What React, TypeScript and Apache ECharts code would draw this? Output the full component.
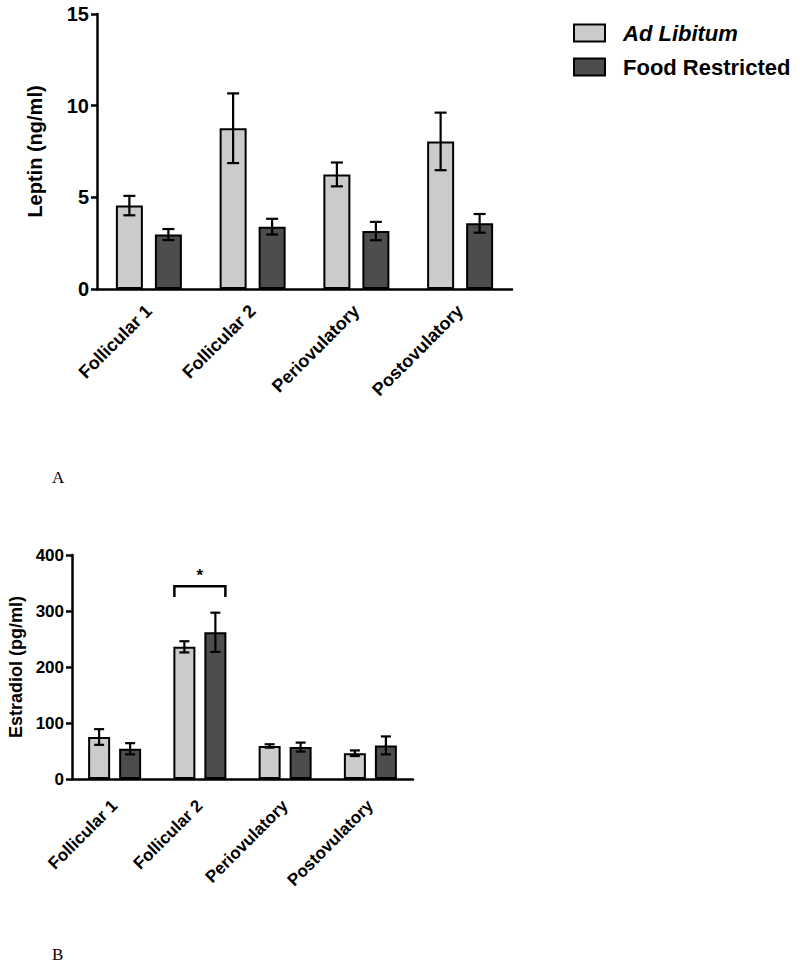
import React, { useEffect, useRef } from "react";
import * as echarts from "echarts";

const categories = ["Follicular 1", "Follicular 2", "Periovulatory", "Postovulatory"];
const seriesNames = ["Ad Libitum", "Food Restricted"];

// Panel A: Leptin (ng/ml)
const leptinAdLib = [4.55, 8.77, 6.25, 8.05];
const leptinAdLibErr = [0.53, 1.9, 0.65, 1.57];
const leptinFR = [2.97, 3.4, 3.16, 3.58];
const leptinFRErr = [0.3, 0.43, 0.5, 0.51];
const leptinTicks = { min: 0, max: 15, interval: 5 };

// Panel B: Estradiol (pg/ml)
const estAdLib = [75, 236, 59, 46];
const estAdLibErr = [14, 10, 3, 5];
const estFR = [54, 262, 57, 60];
const estFRErr = [10, 35, 8, 16];
const estTicks = { min: 0, max: 400, interval: 100 };

// significance bracket (panel B)
const sigCategory = 1;
const sigBracketTop = 344;
const sigBracketDrop = 325;
const sigStarValue = 363;
const sigLabel = "*";

const LIGHT = "#cbcbcb";
const DARK = "#4d4d4d";
const FONT = "'Liberation Sans', Arial, Helvetica, sans-serif";

export default function App() {
  const ref = useRef<HTMLDivElement>(null);
  useEffect(() => {
    if (!ref.current) return;
    const chart = echarts.init(ref.current, null, { renderer: "svg" });

    const A = { bw: 27, gap: 12, cap: 6 };
    const B = { bw: 22, gap: 9, cap: 5 };

    const errSeries = (
      means: number[],
      errs: number[],
      idx: number,
      cfg: { bw: number; gap: number; cap: number },
      sign: number
    ) => ({
      type: "custom",
      xAxisIndex: idx,
      yAxisIndex: idx,
      z: 5,
      silent: true,
      data: means.map((m, i) => [i, m, errs[i]]),
      renderItem: (params: any, api: any) => {
        const x = api.value(0);
        const m = api.value(1);
        const e = api.value(2);
        const hi = api.coord([x, m + e]);
        const lo = api.coord([x, m - e]);
        const cx = hi[0] + (sign * (cfg.bw + cfg.gap)) / 2;
        const st = { stroke: "#000", lineWidth: 2.2 };
        return {
          type: "group",
          children: [
            { type: "line", shape: { x1: cx, y1: hi[1], x2: cx, y2: lo[1] }, style: st },
            { type: "line", shape: { x1: cx - cfg.cap, y1: hi[1], x2: cx + cfg.cap, y2: hi[1] }, style: st },
            { type: "line", shape: { x1: cx - cfg.cap, y1: lo[1], x2: cx + cfg.cap, y2: lo[1] }, style: st },
          ],
        };
      },
    });

    const barSeries = (name: string, data: number[], idx: number, color: string, cfg: { bw: number; gap: number }) => ({
      type: "bar",
      name,
      xAxisIndex: idx,
      yAxisIndex: idx,
      data,
      barWidth: cfg.bw,
      barGap: `${(cfg.gap / cfg.bw) * 100}%`,
      itemStyle: { color, borderColor: "#000", borderWidth: 2 },
      emphasis: { disabled: true },
      z: 2,
    });

    const xAxisCommon = (fs: number, margin: number) => ({
      type: "category",
      data: categories,
      axisLine: { lineStyle: { color: "#000", width: 2.5 } },
      axisTick: { show: false },
      axisLabel: {
        rotate: 45,
        interval: 0,
        color: "#000",
        fontWeight: "bold",
        fontSize: fs,
        fontFamily: FONT,
        margin,
      },
    });

    const yAxisCommon = (ticks: any, name: string, fs: number, nfs: number, gap: number) => ({
      type: "value",
      min: ticks.min,
      max: ticks.max,
      interval: ticks.interval,
      name,
      nameLocation: "middle",
      nameRotate: 90,
      nameGap: gap,
      nameTextStyle: { color: "#000", fontWeight: "bold", fontSize: nfs, fontFamily: FONT },
      axisLine: { show: true, lineStyle: { color: "#000", width: 2.5 } },
      axisTick: { show: true, length: 6, lineStyle: { color: "#000", width: 2.5 } },
      splitLine: { show: false },
      axisLabel: { color: "#000", fontWeight: "bold", fontSize: fs, fontFamily: FONT, margin: 8 },
    });

    const option: any = {
      animation: false,
      backgroundColor: "#fff",
      legend: {
        data: seriesNames,
        orient: "vertical",
        left: 568,
        top: 17,
        itemWidth: 31,
        itemHeight: 17,
        itemGap: 12,
        selectedMode: false,
        icon: "rect",
        itemStyle: { borderColor: "#000", borderWidth: 2 },
        formatter: (n: string) => (n === "Ad Libitum" ? `{it|${n}}` : `{b|${n}}`),
        textStyle: {
          color: "#000",
          fontFamily: FONT,
          rich: {
            it: { fontStyle: "italic", fontWeight: "bold", fontSize: 22, fontFamily: FONT, color: "#000", padding: [0, 0, 0, 13], lineHeight: 17 },
            b: { fontWeight: "bold", fontSize: 22, fontFamily: FONT, color: "#000", padding: [0, 0, 0, 13], lineHeight: 17 },
          },
        },
      },
      grid: [
        { left: 97, top: 14, width: 415, height: 275 },
        { left: 72, top: 555, width: 341, height: 224 },
      ],
      xAxis: [
        { ...xAxisCommon(18, 19), gridIndex: 0 },
        { ...xAxisCommon(17, 24), gridIndex: 1 },
      ],
      yAxis: [
        { ...yAxisCommon(leptinTicks, "Leptin (ng/ml)", 20, 20, 52), gridIndex: 0 },
        { ...yAxisCommon(estTicks, "Estradiol (pg/ml)", 17, 18, 47), gridIndex: 1 },
      ],
      series: [
        barSeries(seriesNames[0], leptinAdLib, 0, LIGHT, A),
        barSeries(seriesNames[1], leptinFR, 0, DARK, A),
        errSeries(leptinAdLib, leptinAdLibErr, 0, A, -1),
        errSeries(leptinFR, leptinFRErr, 0, A, 1),
        barSeries(seriesNames[0], estAdLib, 1, LIGHT, B),
        barSeries(seriesNames[1], estFR, 1, DARK, B),
        errSeries(estAdLib, estAdLibErr, 1, B, -1),
        errSeries(estFR, estFRErr, 1, B, 1),
        {
          type: "custom",
          xAxisIndex: 1,
          yAxisIndex: 1,
          z: 6,
          silent: true,
          data: [[sigCategory, sigBracketTop, sigBracketDrop, sigStarValue]],
          renderItem: (params: any, api: any) => {
            const c = api.value(0);
            const top = api.coord([c, api.value(1)]);
            const drop = api.coord([c, api.value(2)]);
            const star = api.coord([c, api.value(3)]);
            const hw = (B.bw + B.gap) / 2 + B.bw / 2 - 1;
            const cx = top[0];
            return {
              type: "group",
              children: [
                {
                  type: "polyline",
                  shape: { points: [[cx - hw, drop[1]], [cx - hw, top[1]], [cx + hw, top[1]], [cx + hw, drop[1]]] },
                  style: { stroke: "#000", lineWidth: 2.5, fill: null },
                },
                {
                  type: "text",
                  x: cx,
                  y: star[1],
                  style: { text: sigLabel, fontSize: 17, fontWeight: "bold", fontFamily: FONT, fill: "#000", align: "center", verticalAlign: "middle" },
                },
              ],
            };
          },
        },
      ],
      graphic: [
        { type: "text", left: 52, top: 469, style: { text: "A", fontSize: 17, fontFamily: "'Liberation Serif', 'Times New Roman', serif", fill: "#000" } },
        { type: "text", left: 52, top: 946, style: { text: "B", fontSize: 17, fontFamily: "'Liberation Serif', 'Times New Roman', serif", fill: "#000" } },
      ],
    };
    chart.setOption(option);
    return () => chart.dispose();
  }, []);
  return <div ref={ref} style={{ position: "absolute", left: 0, top: 0, width: 800, height: 963 }} />;
}
